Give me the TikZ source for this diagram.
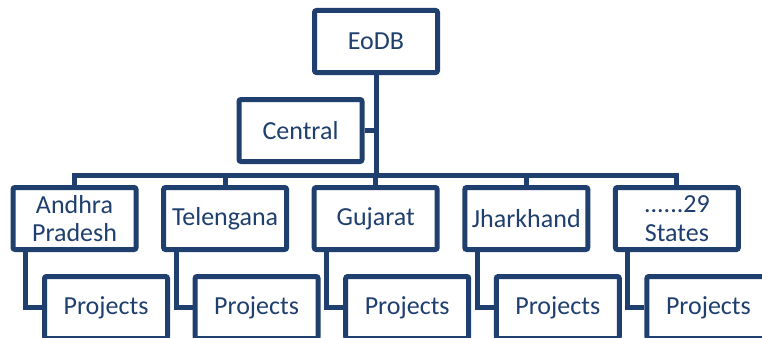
\documentclass[tikz,border=0pt]{standalone}
\usepackage{fontspec}
\setmainfont{Carlito}
\definecolor{navy}{RGB}{31,63,110}
\begin{document}
\begin{tikzpicture}[x=1pt,y=-1pt,
  box/.style={draw=navy, line width=5pt, fill=white, rounded corners=2pt,
    minimum width=123pt, minimum height=62pt, inner sep=2pt, align=center,
    text=navy, font=\fontsize{26}{28.5}\selectfont},
  conn/.style={draw=navy, line width=5pt}]
\useasboundingbox (0,0) rectangle (762,337);
\clip (0,0) rectangle (762,337);

% top of the tree
\node[box] (eodb) at (376,41.5) {EoDB};
\node[box] (central) at (300.5,130.5) {Central};

% states
\node[box] (s1) at (74.5,218.5) {Andhra\\Pradesh};
\node[box] (s2) at (225.1,218.5) {Telengana};
\node[box] (s3) at (375.7,218.5) {Gujarat};
\node[box] (s4) at (526.3,218.5) {Jharkhand};
\node[box] (s5) at (676.9,218.5) {......29\\States};

% projects under each state
\node[box] (p1) at (106,307.5) {Projects};
\node[box] (p2) at (256.6,307.5) {Projects};
\node[box] (p3) at (407.2,307.5) {Projects};
\node[box] (p4) at (557.8,307.5) {Projects};
\node[box] (p5) at (708.4,307.5) {Projects};

% connectors
\coordinate (bus) at (0,175);
\draw[conn] (eodb.south) -- (eodb.south |- bus);
\draw[conn] (central.east) -- (central.east -| eodb.south);
\draw[conn, line join=miter] (s1.north) -- (s1.north |- bus) -- (s5.north |- bus) -- (s5.north);
\foreach \i in {2,3,4}
  \draw[conn] (s\i.north) -- (s\i.north |- bus);
\foreach \i in {1,...,5}
  \draw[conn] ([xshift=15pt]s\i.south west) |- (p\i.west);
\end{tikzpicture}
\end{document}
